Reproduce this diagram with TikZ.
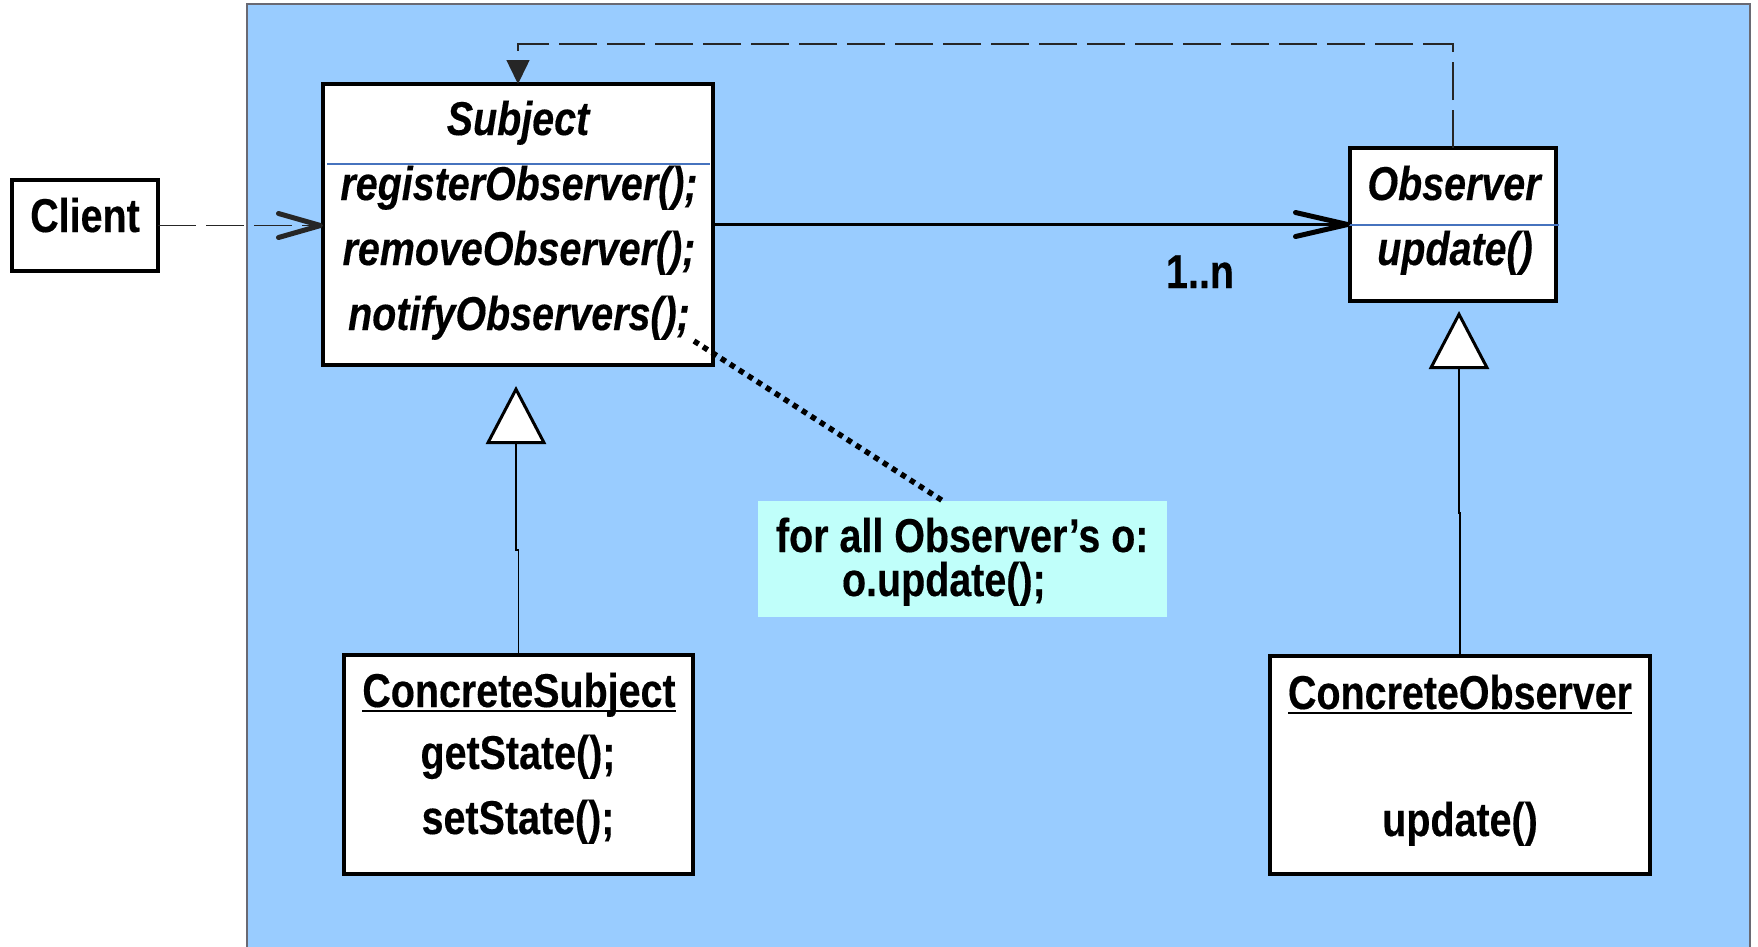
\documentclass[tikz,border=0pt]{standalone}
\usepackage{fontspec}
\setmainfont{Liberation Sans}[FakeStretch=0.83, FakeBold=0.3]
\usetikzlibrary{arrows.meta}
\definecolor{panelblue}{RGB}{153,204,255}
\definecolor{notecyan}{RGB}{192,255,250}
\definecolor{sepblue}{RGB}{70,115,190}
\definecolor{framegray}{RGB}{105,105,115}
% underline drawn just below the baseline, descenders cross it
\newcommand{\classul}[1]{\setbox0\hbox{#1}\rlap{\rule[-5pt]{\wd0}{2pt}}\box0}

\begin{document}
\begin{tikzpicture}[x=1pt,y=-1pt,
  every node/.style={inner sep=0pt, outer sep=0pt},
  umlbox/.style={draw=black, line width=4pt, fill=white, rectangle},
  umltext/.style={font=\fontsize{47.5}{57}\selectfont\bfseries, anchor=base},
  sepline/.style={draw=sepblue, line width=1.5pt},
  dashconn/.style={draw=black!85, line width=1.5pt, dash pattern=on 38pt off 10pt},
  openhead/.style={-{Straight Barb[length=#1, width=24pt, line width=5pt, round]}},
  genline/.style={line width=1.2pt, -{Triangle[fill=white, length=58pt, width=60pt, line width=3pt]}},
  notelink/.style={line width=5.5pt, dash pattern=on 5.5pt off 5.2pt}
]
\clip (0,0) rectangle (1758,946);
\fill[white] (0,0) rectangle (1758,946);
% package area
\filldraw[fill=panelblue, draw=framegray, line width=1.5pt] (247,4) rectangle (1750,960);

% classes
\node[umlbox, minimum width=146pt, minimum height=91pt] (client) at (85,225.5) {};
\node[umlbox, minimum width=390pt, minimum height=281pt] (subject) at (518,224.5) {};
\node[umlbox, minimum width=206pt, minimum height=153pt] (observer) at (1453,224.5) {};
\node[umlbox, minimum width=349pt, minimum height=219pt] (csubject) at (518.5,764.5) {};
\node[umlbox, minimum width=380pt, minimum height=218pt] (cobserver) at (1460,765) {};
\node[fill=notecyan, minimum width=409pt, minimum height=116pt] (note) at (962.5,559) {};

% compartment separators
\coordinate (subjSepL) at (327,164);
\coordinate (subjSepR) at (710,164);
\draw[sepline] (subjSepL) -- (subjSepR);
\coordinate (obsSepL) at (1348,225);
\coordinate (obsSepR) at (1559,225);
\draw[sepline] (obsSepL) -- (obsSepR);

% texts
\node[umltext] (clientName) at (85,232) {Client};
\node[umltext] (subjectName) at (518,135) {\itshape Subject};
\node[umltext] (subjReg) at (519,200) {\itshape registerObserver();};
\node[umltext] (subjRem) at (519,265) {\itshape removeObserver();};
\node[umltext] (subjNot) at (519,330) {\itshape notifyObservers();};
\node[umltext] (observerName) at (1454,200) {\itshape Observer};
\node[umltext] (observerUpd) at (1455,265) {\itshape update()};
\node[umltext] (csubjectName) at (519,707) {\classul{ConcreteSubject}};
\node[umltext] (csubjGet) at (518,769) {getState();};
\node[umltext] (csubjSet) at (518,834) {setState();};
\node[umltext] (cobserverName) at (1460,709) {\classul{ConcreteObserver}};
\node[umltext] (cobserverUpd) at (1460,836) {update()};
\node[umltext, anchor=base west] (noteLine1) at (776,552) {for all Observer’s o:};
\node[umltext, anchor=base west] (noteLine2) at (842,596) {o.update();};
\node[umltext] (mult) at (1200,288) {1..n};

% dependency of the client on the subject
\draw[dashconn, openhead=42pt]
  (client.east) -- (subject.west |- client.east);

% association subject -> observer
\draw[line width=3.5pt, openhead=52pt]
  (subject.east) -- (observer.west);

% observer back to subject
\draw[dashconn, -{Triangle[length=24pt, width=23pt]}]
  (observer.north) -- ++(0,-104) -| (subject.north);

% generalizations
\coordinate (subjTip) at (516,386);
\draw[genline] (csubject.north) -- (csubject.north |- 0,550) -- (subjTip |- 0,550) -- (subjTip);
\coordinate (obsTip) at (1459,311);
\draw[genline] (cobserver.north) -- (cobserver.north |- 0,513) -- (obsTip |- 0,513) -- (obsTip);

% note attachment
\coordinate (notifyEnd) at (694,341);
\draw[notelink] (notifyEnd) -- ([xshift=-19.5pt]note.north);
\end{tikzpicture}
\end{document}
